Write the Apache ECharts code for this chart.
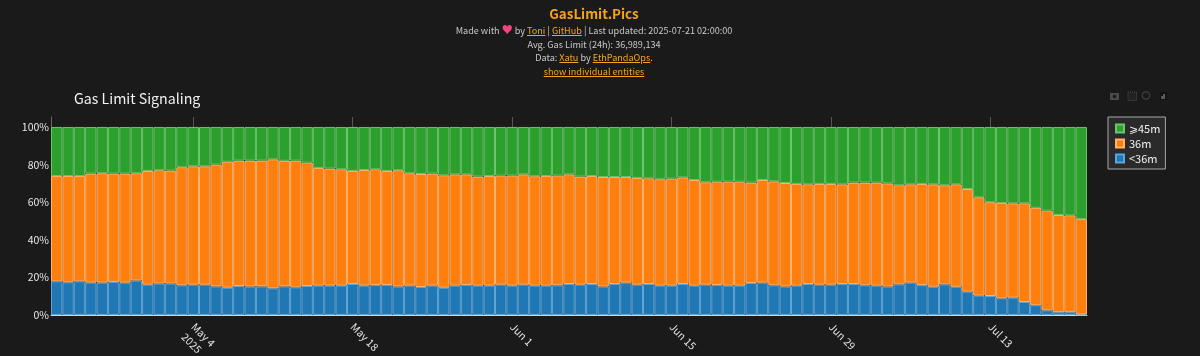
<!DOCTYPE html>
<html>
<head>
<meta charset="utf-8">
<title>GasLimit.Pics</title>
<script src="https://cdn.jsdelivr.net/npm/echarts@6/dist/echarts.min.js"></script>
<style>
html, body { margin: 0; padding: 0; background: #1a1a1a; }
#chart { position: absolute; left: 0; top: 0; width: 1200px; height: 356px; }
#header {
  position: absolute; left: 0; top: 0; width: 1188px; text-align: center; z-index: 2;
  font-family: "Noto Sans CJK SC", "Noto Sans", sans-serif; font-size: 9.1px; line-height: 13.6px; color: #c8c8c8;
}
#header h1 { margin: 5px 0 2px; font-size: 13.4px; line-height: 16px; font-weight: 700; color: #f5a31c; }
#header a { color: #f5a31c; text-decoration: underline; }
.heart { color: #f0437f; font-size: 11px; }
</style>
</head>
<body>
<div id="header">
  <h1>GasLimit.Pics</h1>
  <div>Made with <span class="heart">♥</span> by <a>Toni</a> | <a>GitHub</a> | Last updated: 2025-07-21 02:00:00</div>
  <div>Avg. Gas Limit (24h): 36,989,134</div>
  <div>Data: <a>Xatu</a> by <a>EthPandaOps</a>.</div>
  <div><a>show individual entities</a></div>
</div>
<div id="chart"></div>
<script>
// one bar per day, 2025-04-22 to 2025-07-21
var days = [];
for (var d = Date.UTC(2025, 3, 22), n = 0; n < 91; n++) {
  days.push(new Date(d + n * 86400000).toISOString().slice(0, 10));
}
var tickDays = ['2025-05-04', '2025-05-18', '2025-06-01', '2025-06-15', '2025-06-29', '2025-07-13'];
// blank first line keeps "May 4" in line with the other labels, "2025" hangs below it
var tickTexts = [' \nMay 4\n2025', 'May 18', 'Jun 1', 'Jun 15', 'Jun 29', 'Jul 13'];
var yTicks = [0, 20, 40, 60, 80, 100];

var below36 = [17.9,17.4,17.9,17.2,17.2,17.6,17.2,18.3,16.1,16.7,16.7,15.8,16.1,16.1,15.2,14.5,15.4,15.1,15.2,14.2,15.2,14.7,15.4,15.6,15.6,15.6,16.5,15.6,16,16,15.1,15.6,14.9,15.6,14.5,15.6,16,15.6,15.6,16.1,15.6,16.1,15.6,15.6,15.8,16.5,16.1,16.5,15.1,16.5,17.2,16.1,16.5,15.6,15.6,16.5,15.6,16.1,16,15.6,15.6,17,17.2,15.8,15.1,15.6,16.5,16.1,16.1,16.5,16.5,15.8,15.6,15.1,16.3,17.2,15.9,15,16.3,15,12.4,10.3,10.1,8.9,9.2,6.9,5.2,2.5,1.5,1.5,0.3];
var at36 = [56,56.5,56,58,58.2,57.6,58,57.1,60.5,60.3,60.1,62.8,63,63,64.8,67,66.7,67,66.9,68.6,66.8,67.4,65.6,62.6,62.3,61.9,60.1,61.5,61.5,60.6,61.9,59.8,60.1,59.6,59.8,59.2,58.8,58,58.3,58,58.5,58.7,58.2,58.3,58.3,58.3,57.5,57.4,58.3,56.9,56.2,56.8,56.2,56.6,56.9,56.7,56.2,54.5,54.9,55.3,55.3,53.4,54.6,55.3,55.1,54.1,53,53.6,53.6,53,53.9,54.6,54.8,54.9,52.7,52.3,53.8,54.5,52.7,54.5,54.6,52.3,49.9,50.7,50.2,52.5,51.8,53,51.7,51.5,50.7];
var from45 = [26.1,26.1,26.1,24.8,24.6,24.8,24.8,24.6,23.4,23,23.2,21.4,20.9,20.9,20,18.5,17.9,17.9,17.9,17.2,18,17.9,19,21.8,22.1,22.5,23.4,22.9,22.5,23.4,23,24.6,25,24.8,25.7,25.2,25.2,26.4,26.1,25.9,25.9,25.2,26.2,26.1,25.9,25.2,26.4,26.1,26.6,26.6,26.6,27.1,27.3,27.8,27.5,26.8,28.2,29.4,29.1,29.1,29.1,29.6,28.2,28.9,29.8,30.3,30.5,30.3,30.3,30.5,29.6,29.6,29.6,30,31,30.5,30.3,30.5,31,30.5,33,37.4,40,40.4,40.6,40.6,43,44.5,46.8,47,49];

var fontName = '"Noto Sans CJK SC", "Noto Sans", sans-serif';
var iconGrey = '#4a4a4a';

function isTick(index) {
  return tickDays.indexOf(days[index]) >= 0;
}

function barSeries(name, values, color, edge) {
  return {
    name: name,
    type: 'bar',
    stack: 'all',
    barCategoryGap: 0,
    data: values,
    itemStyle: { color: color, borderColor: edge, borderWidth: 1 }
  };
}

var chart = echarts.init(document.getElementById('chart'));
chart.setOption({
  animation: false,
  backgroundColor: '#1a1a1a',
  textStyle: { fontFamily: fontName },
  title: {
    text: 'Gas Limit Signaling',
    left: 74,
    top: 92,
    padding: 0,
    textStyle: { color: '#f2f2f2', fontSize: 14.2, fontWeight: 'normal', fontFamily: fontName }
  },
  legend: {
    orient: 'vertical',
    left: 1108,
    top: 117,
    padding: [6, 5, 5, 7],
    itemWidth: 8,
    itemHeight: 8,
    itemGap: 4,
    icon: 'rect',
    backgroundColor: '#2a2a2a',
    borderColor: '#a8a8a8',
    borderWidth: 1,
    textStyle: { color: '#f0f0f0', fontSize: 11, fontFamily: fontName },
    data: ['⩾45m', '36m', '<36m']
  },
  grid: { left: 51, top: 117, width: 1036, height: 198, outerBoundsMode: 'none' },
  xAxis: {
    type: 'category',
    data: days,
    axisLine: { show: true, lineStyle: { color: '#cfd8dc', width: 1 } },
    axisTick: { show: false },
    splitLine: {
      show: true,
      alignWithLabel: true,
      interval: function (index) { return isTick(index); },
      lineStyle: { color: '#555', width: 1 }
    },
    axisLabel: {
      interval: function (index) { return isTick(index); },
      rotate: -45,
      color: '#e6e6e6',
      fontSize: 10.5,
      margin: 10,
      lineHeight: 14,
      formatter: function (value) { return tickTexts[tickDays.indexOf(value)]; }
    }
  },
  yAxis: {
    type: 'value',
    min: 0,
    max: 105.3,
    interval: 20,
    axisLine: { show: true, lineStyle: { color: '#666', width: 1 } },
    axisTick: { show: false },
    splitLine: { show: false },
    axisLabel: {
      color: '#e6e6e6',
      fontSize: 10.5,
      margin: 2,
      showMaxLabel: false,
      formatter: function (value) { return yTicks.indexOf(value) >= 0 ? value + '%' : ''; }
    }
  },
  series: [
    barSeries('<36m', below36, '#1f77b4', '#5fa6d8'),
    barSeries('36m', at36, '#ff7f0e', '#ffb26c'),
    barSeries('⩾45m', from45, '#2ca02c', '#6cc46c')
  ],
  // plot toolbar icons, top right
  graphic: [
    { type: 'rect', shape: { x: 1110, y: 93, width: 9, height: 7 }, style: { fill: iconGrey } },
    { type: 'circle', shape: { cx: 1114.5, cy: 96.5, r: 1.8 }, style: { fill: '#1a1a1a' } },
    { type: 'rect', shape: { x: 1128, y: 92, width: 8.5, height: 8.5 }, style: { fill: '#222', stroke: iconGrey, lineWidth: 1, lineDash: [1, 1] } },
    { type: 'circle', shape: { cx: 1146, cy: 95.5, r: 3.8 }, style: { fill: 'none', stroke: iconGrey, lineWidth: 1 } },
    { type: 'rect', shape: { x: 1160, y: 92, width: 7, height: 8 }, style: { fill: '#111' } },
    { type: 'rect', shape: { x: 1161.5, y: 96, width: 1.2, height: 3 }, style: { fill: '#8a8a8a' } },
    { type: 'rect', shape: { x: 1163.5, y: 94, width: 1.2, height: 5 }, style: { fill: '#8a8a8a' } }
  ]
});
</script>
</body>
</html>
